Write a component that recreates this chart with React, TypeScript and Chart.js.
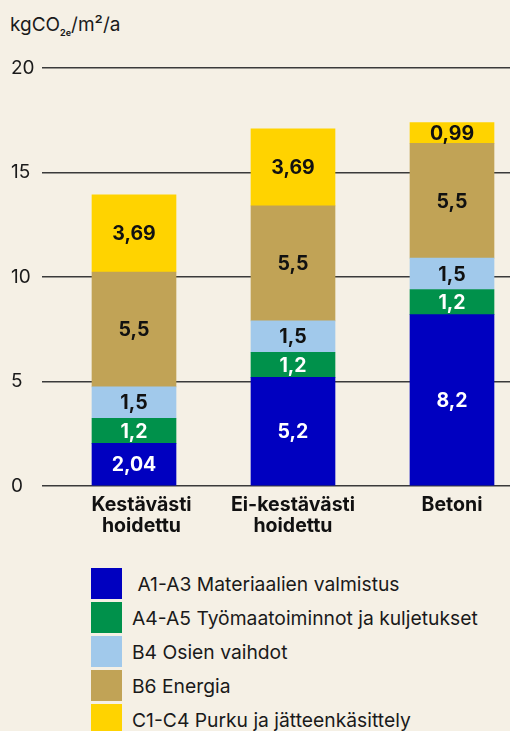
import React, { useEffect, useRef } from "react";
import { Chart, registerables } from "chart.js";

Chart.register(...registerables);

const categories: string[][] = [["Kestävästi", "hoidettu"], ["Ei-kestävästi", "hoidettu"], ["Betoni"]];
const categoryLabelPos = [0.047, 1, 2];
const seriesNames = [
  "\u00a0A1-A3 Materiaalien valmistus",
  "A4-A5 Työmaatoiminnot ja kuljetukset",
  "B4 Osien vaihdot",
  "B6 Energia",
  "C1-C4 Purku ja jätteenkäsittely",
];
const a1a3 = [2.04, 5.2, 8.2];
const a4a5 = [1.2, 1.2, 1.2];
const b4 = [1.5, 1.5, 1.5];
const b6 = [5.5, 5.5, 5.5];
const c1c4 = [3.69, 3.69, 0.99];
const yTicks = [0, 5, 10, 15, 20];

const seriesValues = [a1a3, a4a5, b4, b6, c1c4];
const seriesColors = ["#0000c0", "#00914b", "#a1c9eb", "#c1a356", "#ffd300"];
const labelColors = ["#ffffff", "#ffffff", "#111111", "#111111", "#111111"];

const BG = "#f5f0e5";
const FONT = "Inter, 'Noto Sans', sans-serif";

const valueLabels = {
  id: "valueLabels",
  afterDatasetsDraw(chart: any) {
    const ctx = chart.ctx;
    ctx.save();
    ctx.font = `700 19.5px ${FONT}`;
    ctx.textAlign = "center";
    ctx.textBaseline = "middle";
    chart.data.datasets.forEach((ds: any, di: number) => {
      const meta = chart.getDatasetMeta(di);
      meta.data.forEach((el: any, i: number) => {
        const { x, y, base } = el.getProps(["x", "y", "base"], true);
        const v = ds.data[i].y;
        ctx.fillStyle = labelColors[di];
        ctx.fillText(String(v).replace(".", ","), x, (y + base) / 2 + 1);
      });
    });
    ctx.restore();
  },
};

export default function App() {
  const ref = useRef<HTMLCanvasElement>(null);

  useEffect(() => {
    document.body.style.margin = "0";
    document.body.style.background = BG;
    const chart = new Chart(ref.current!, {
      type: "bar",
      data: {
        datasets: seriesNames.map((name, si) => ({
          label: name,
          data: seriesValues[si].map((v, i) => ({ x: i, y: v })),
          backgroundColor: seriesColors[si],
          borderWidth: 0,
          barThickness: 84,
        })),
      },
      options: {
        responsive: false,
        animation: false,
        layout: { padding: { left: 11, top: 68, right: 0, bottom: 4 } },
        plugins: { legend: { display: false }, tooltip: { enabled: false } },
        scales: {
          x: {
            type: "linear",
            stacked: true,
            offset: false,
            min: -0.5786,
            max: 2.3648,
            grid: { display: false, offset: false },
            border: { display: false },
            afterBuildTicks: (scale: any) => {
              scale.ticks = categoryLabelPos.map((p) => ({ value: p }));
            },
            afterFit: (scale: any) => {
              scale.height = 60;
            },
            ticks: {
              autoSkip: false,
              maxRotation: 0,
              minRotation: 0,
              padding: 1,
              color: "#111111",
              font: { family: FONT, size: 19.5, weight: "bold", lineHeight: "21px" },
              callback: (_value: any, index: number) => categories[index] ?? "",
            },
          },
          y: {
            stacked: true,
            min: 0,
            max: 20,
            afterBuildTicks: (scale: any) => {
              scale.ticks = yTicks.map((v) => ({ value: v }));
            },
            afterFit: (scale: any) => {
              scale.width = 31;
            },
            grid: { color: "#3a3a3a", lineWidth: 1.5, drawTicks: false },
            border: { display: false },
            ticks: {
              crossAlign: "far",
              padding: 0,
              color: "#1a1a1a",
              font: { family: FONT, size: 19 },
            },
          },
        },
      },
      plugins: [valueLabels],
    } as any);
    return () => chart.destroy();
  }, []);

  return (
    <div style={{ position: "relative", width: 510, height: 731, background: BG, overflow: "hidden", fontFamily: FONT, color: "#1a1a1a" }}>
      <div style={{ position: "absolute", left: 10, top: 15, fontSize: 19, lineHeight: "19px", whiteSpace: "nowrap" }}>
        kgCO<span style={{ fontSize: 9, fontWeight: 700, position: "relative", top: 5 }}>2e</span>/m²/a
      </div>
      <canvas ref={ref} width={510} height={550} style={{ position: "absolute", left: 0, top: 0 }} />
      <div style={{ position: "absolute", left: 91, top: 568 }}>
        {seriesNames.map((name, i) => (
          <div key={name} style={{ display: "flex", alignItems: "center", height: 31, marginBottom: 3 }}>
            <div style={{ width: 31, height: 31, background: seriesColors[i], flex: "none" }} />
            <div style={{ marginLeft: 10, fontSize: 19.3, whiteSpace: "pre" }}>{name}</div>
          </div>
        ))}
      </div>
    </div>
  );
}
